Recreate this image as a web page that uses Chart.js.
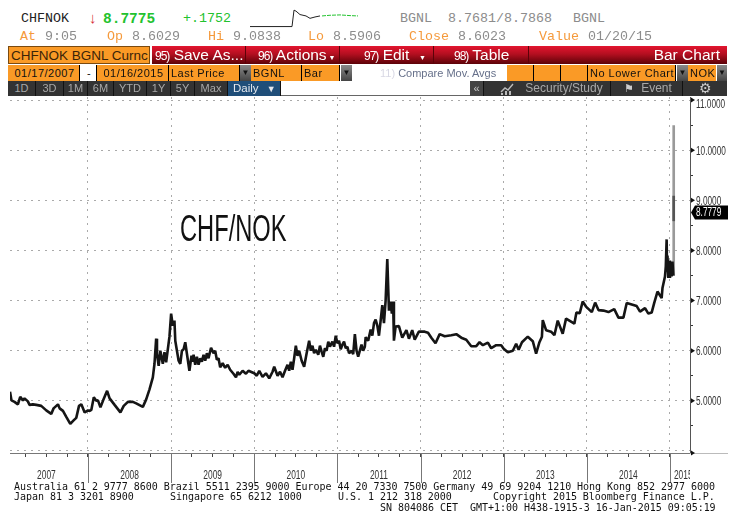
<!DOCTYPE html>
<html>
<head>
<meta charset="utf-8">
<script src="https://cdn.jsdelivr.net/npm/chart.js@4"></script>
<style>
html, body { margin: 0; padding: 0; background: #fff; }
body { width: 736px; height: 527px; position: relative; overflow: hidden; font-family: "Liberation Sans", sans-serif; }
.t { position: absolute; white-space: pre; }
.top { font: 13.33px/16px "Liberation Mono", monospace; color: #8c8c8c; }
.or { color: #f59a3c; }
.box { position: absolute; box-sizing: border-box; white-space: pre; overflow: hidden; }
.red { top: 46px; height: 18px; background: linear-gradient(#e3152f, #b30f20 45%, #5c0208); color: #fff; font-size: 15.5px; line-height: 18px; border-right: 1px solid #5c0208; }
.red i { font-size: 12px; font-style: normal; letter-spacing: -1px; }
.cell { top: 65px; height: 16px; background: #fa9a26; color: #111; font-size: 11px; line-height: 16px; padding-left: 2px; border-right: 1px solid #000; letter-spacing: .5px; }
.drop { top: 65px; height: 16px; background: linear-gradient(#8a8a8a, #444); color: #111; font-size: 8px; line-height: 16px; text-align: center; }
.btn { top: 81px; height: 15px; background: #333; color: #a8a8a8; font-size: 11px; line-height: 15px; text-align: center; border-right: 1px solid #111; }
.foot { font: 10px/10px "DejaVu Sans Mono", monospace; color: #111; letter-spacing: -.03px; }
</style>
</head>
<body>

<span class="t top" style="left:21px;top:11px;color:#222">CHFNOK</span>
<span class="t" style="left:89px;top:9px;color:#d8323a;font-size:15px">↓</span>
<span class="t top" style="left:103px;top:11px;color:#22c22e;font-weight:bold;font-size:14.5px">8.7775</span>
<span class="t top" style="left:183px;top:11px;color:#22c22e">+.1752</span>
<canvas id="spark" width="112" height="24" class="t" style="left:250px;top:6px"></canvas>
<span class="t top" style="left:400px;top:11px">BGNL</span>
<span class="t top" style="left:448px;top:11px">8.7681/8.7868</span>
<span class="t top" style="left:573px;top:11px">BGNL</span>

<span class="t top or" style="left:20px;top:29px">At</span>
<span class="t top" style="left:45px;top:29px">9:05</span>
<span class="t top or" style="left:107px;top:29px">Op</span>
<span class="t top" style="left:132px;top:29px">8.6029</span>
<span class="t top or" style="left:208px;top:29px">Hi</span>
<span class="t top" style="left:233px;top:29px">9.0838</span>
<span class="t top or" style="left:308px;top:29px">Lo</span>
<span class="t top" style="left:333px;top:29px">8.5906</span>
<span class="t top or" style="left:409px;top:29px">Close</span>
<span class="t top" style="left:458px;top:29px">8.6023</span>
<span class="t top or" style="left:539px;top:29px">Value</span>
<span class="t top" style="left:588px;top:29px">01/20/15</span>

<div class="box" style="left:8px;top:46px;width:142px;height:18px;background:#fa9a26;border:1px solid #7a4a10;color:#3a2408;font-size:13.5px;line-height:17px;padding-left:2px">CHFNOK BGNL Curnc</div>
<div class="box red" style="left:152px;width:94px;padding-left:3px"><i>95)</i> Save As...</div>
<div class="box red" style="left:246px;width:94px;padding-left:12px"><i>96)</i> Actions<span style="font-size:7px"> ▼</span></div>
<div class="box red" style="left:340px;width:94px;padding-left:24px"><i>97)</i> Edit<span style="font-size:7px">     ▼</span></div>
<div class="box red" style="left:434px;width:95px;padding-left:20px"><i>98)</i> Table</div>
<div class="box red" style="left:529px;width:198px;text-align:right;padding-right:7px;border-right:0">Bar Chart</div>

<div class="box cell" style="left:8px;width:72px;text-align:center">01/17/2007</div>
<div class="box cell" style="left:80px;width:17px;background:#fff;text-align:center">-</div>
<div class="box cell" style="left:97px;width:72px;text-align:center">01/16/2015</div>
<div class="box cell" style="left:169px;width:71px">Last Price</div>
<div class="box drop" style="left:240px;width:11px">▼</div>
<div class="box cell" style="left:251px;width:51px">BGNL</div>
<div class="box cell" style="left:302px;width:38px">Bar</div>
<div class="box drop" style="left:341px;width:11px">▼</div>
<div class="box cell" style="left:352px;width:155px;background:#fff;color:#66708a;border:0;padding-left:28px;letter-spacing:0"><span style="color:#d8d8e4">11)</span> Compare Mov. Avgs</div>
<div class="box cell" style="left:507px;width:27px"></div>
<div class="box cell" style="left:534px;width:27px"></div>
<div class="box cell" style="left:561px;width:27px"></div>
<div class="box cell" style="left:588px;width:88px">No Lower Chart</div>
<div class="box drop" style="left:677px;width:11px">▼</div>
<div class="box cell" style="left:688px;width:28px;border:0">NOK</div>
<div class="box drop" style="left:717px;width:10px">▼</div>

<div class="box btn" style="left:8px;width:28px">1D</div>
<div class="box btn" style="left:36px;width:28px">3D</div>
<div class="box btn" style="left:64px;width:24px">1M</div>
<div class="box btn" style="left:88px;width:26px">6M</div>
<div class="box btn" style="left:114px;width:33px">YTD</div>
<div class="box btn" style="left:147px;width:24px">1Y</div>
<div class="box btn" style="left:171px;width:24px">5Y</div>
<div class="box btn" style="left:195px;width:33px">Max</div>
<div class="box btn" style="left:228px;width:53px;background:#1f4e79;color:#e4e8ee;text-align:left;padding-left:5px;font-size:11.5px">Daily <span style="font-size:9px">  ▼</span></div>
<div class="box" style="left:281px;top:95px;width:189px;height:1px;background:#666"></div>
<div class="box btn" style="left:470px;width:14px;background:#444;color:#ccc">«</div>
<div class="box btn" style="left:484px;width:127px;padding-left:34px;font-size:12px">Security/Study</div>
<svg class="t" style="left:500px;top:83px" width="14" height="12"><polyline points="1,9 5,5 8,7 13,1" fill="none" stroke="#bbb" stroke-width="1.4"/><rect x="1" y="10" width="2" height="2" fill="#bbb"/><rect x="5" y="8" width="2" height="4" fill="#bbb"/><rect x="9" y="8" width="2" height="4" fill="#bbb"/></svg>
<div class="box btn" style="left:611px;width:72px;padding-left:20px;font-size:12px">Event</div>
<span class="t" style="left:624px;top:81px;color:#ccc;font:11px/15px 'DejaVu Sans',sans-serif">⚑</span>
<div class="box btn" style="left:683px;width:44px;border:0;font-size:14px;color:#ccc">⚙</div>

<canvas id="chart" width="736" height="390" class="t" style="left:0;top:97px"></canvas>
<span class="t" style="left:180px;top:209px;font:37px/40px 'Liberation Sans',sans-serif;color:#111;transform:scaleX(.64);transform-origin:left">CHF/NOK</span>

<span class="t foot" style="left:14px;top:482px">Australia 61 2 9777 8600 Brazil 5511 2395 9000 Europe 44 20 7330 7500 Germany 49 69 9204 1210 Hong Kong 852 2977 6000</span>
<span class="t foot" style="left:14px;top:492px">Japan 81 3 3201 8900</span>
<span class="t foot" style="left:170px;top:492px">Singapore 65 6212 1000</span>
<span class="t foot" style="left:338px;top:492px">U.S. 1 212 318 2000</span>
<span class="t foot" style="left:493px;top:492px">Copyright 2015 Bloomberg Finance L.P.</span>
<span class="t foot" style="left:380px;top:503px">SN 804086 CET</span>
<span class="t foot" style="left:470px;top:503px">GMT+1:00 H438-1915-3 16-Jan-2015 09:05:19</span>

<script>
// CHF/NOK, decimal year and last price
var dates2007 = [2007.062, 2007.08, 2007.116, 2007.157, 2007.185, 2007.217, 2007.237, 2007.277, 2007.297, 2007.337, 2007.378, 2007.438, 2007.498, 2007.558, 2007.586, 2007.639, 2007.659, 2007.699, 2007.739, 2007.787, 2007.827, 2007.859, 2007.892, 2007.92, 2007.96];
var rates2007 = [5.18, 5.01, 4.98, 4.93, 5.08, 5.01, 5.05, 4.99, 4.92, 4.93, 4.92, 4.90, 4.81, 4.74, 4.85, 4.93, 4.85, 4.80, 4.68, 4.54, 4.61, 4.66, 4.90, 4.93, 4.77];
var dates2008 = [2008.0, 2008.02, 2008.04, 2008.07, 2008.10, 2008.12, 2008.15, 2008.18, 2008.23, 2008.26, 2008.32, 2008.39, 2008.43, 2008.48, 2008.54, 2008.58, 2008.66, 2008.70, 2008.74, 2008.78, 2008.80, 2008.82, 2008.83, 2008.85, 2008.87, 2008.90, 2008.92, 2008.94, 2008.98];
var rates2008 = [4.81, 4.80, 4.82, 5.07, 5.00, 5.01, 4.87, 5.00, 5.20, 5.05, 4.92, 4.77, 4.90, 4.98, 4.98, 4.95, 4.88, 5.03, 5.23, 5.47, 5.74, 6.24, 5.94, 5.70, 6.00, 5.74, 5.97, 5.77, 6.28];
var dates2009 = [2009.0, 2009.02, 2009.04, 2009.05, 2009.09, 2009.11, 2009.13, 2009.15, 2009.17, 2009.19, 2009.22, 2009.245, 2009.26, 2009.27, 2009.29, 2009.31, 2009.33, 2009.35, 2009.37, 2009.39, 2009.41, 2009.43, 2009.45, 2009.48, 2009.51, 2009.53, 2009.55, 2009.57, 2009.59, 2009.62, 2009.65, 2009.68, 2009.71, 2009.75, 2009.78, 2009.80, 2009.82, 2009.86, 2009.90, 2009.93];
var rates2009 = [6.74, 6.50, 6.60, 6.20, 5.80, 5.74, 6.00, 6.03, 6.17, 5.94, 5.60, 5.90, 5.78, 5.92, 5.72, 5.88, 5.72, 5.85, 5.78, 5.92, 5.80, 5.95, 5.85, 6.06, 5.95, 6.00, 5.82, 5.85, 5.67, 5.75, 5.66, 5.72, 5.62, 5.54, 5.47, 5.58, 5.52, 5.60, 5.54, 5.60];
var dates2010 = [2010.0, 2010.03, 2010.06, 2010.10, 2010.14, 2010.18, 2010.22, 2010.24, 2010.28, 2010.31, 2010.34, 2010.37, 2010.40, 2010.42, 2010.44, 2010.46, 2010.48, 2010.50, 2010.52, 2010.54, 2010.57, 2010.60, 2010.63, 2010.66, 2010.68, 2010.70, 2010.72, 2010.74, 2010.77, 2010.79, 2010.81, 2010.83, 2010.85, 2010.87, 2010.89, 2010.91, 2010.94, 2010.96, 2010.98];
var rates2010 = [5.55, 5.50, 5.60, 5.48, 5.55, 5.45, 5.58, 5.68, 5.50, 5.58, 5.47, 5.60, 5.72, 5.60, 5.78, 5.62, 5.85, 6.10, 5.90, 6.00, 5.80, 5.68, 5.95, 6.20, 6.00, 6.10, 5.95, 6.02, 5.92, 6.10, 5.98, 5.88, 6.05, 6.00, 6.18, 6.08, 6.18, 6.08, 6.30];
var dates2011 = [2011.0, 2011.02, 2011.04, 2011.06, 2011.08, 2011.10, 2011.12, 2011.14, 2011.17, 2011.19, 2011.21, 2011.23, 2011.25, 2011.27, 2011.29, 2011.31, 2011.33, 2011.34, 2011.37, 2011.40, 2011.42, 2011.44, 2011.46, 2011.48, 2011.50, 2011.52, 2011.54, 2011.56, 2011.58, 2011.60, 2011.62, 2011.64, 2011.655, 2011.67, 2011.68, 2011.70, 2011.74, 2011.78, 2011.83, 2011.86, 2011.90, 2011.93, 2011.98];
var rates2011 = [6.15, 6.20, 6.03, 6.12, 6.18, 6.05, 6.08, 5.95, 6.00, 5.93, 6.33, 6.00, 5.88, 6.00, 6.12, 6.00, 6.08, 6.27, 6.20, 6.42, 6.30, 6.55, 6.62, 6.50, 6.30, 6.60, 6.91, 6.55, 7.00, 7.83, 6.80, 6.98, 6.74, 6.98, 6.20, 6.48, 6.49, 6.26, 6.41, 6.24, 6.41, 6.22, 6.38];
var dates2012 = [2012.05, 2012.09, 2012.13, 2012.18, 2012.23, 2012.29, 2012.37, 2012.43, 2012.49, 2012.55, 2012.61, 2012.67, 2012.71, 2012.75, 2012.81, 2012.85, 2012.91, 2012.97];
var rates2012 = [6.38, 6.36, 6.26, 6.15, 6.33, 6.29, 6.31, 6.33, 6.26, 6.22, 6.09, 6.09, 6.17, 6.11, 6.16, 6.05, 6.11, 6.11];
var dates2013 = [2013.0, 2013.05, 2013.11, 2013.15, 2013.18, 2013.22, 2013.29, 2013.35, 2013.39, 2013.43, 2013.46, 2013.47, 2013.51, 2013.57, 2013.61, 2013.65, 2013.71, 2013.75, 2013.79, 2013.85, 2013.875, 2013.915, 2013.95, 2013.99];
var rates2013 = [6.04, 5.97, 6.00, 6.14, 6.02, 6.17, 6.28, 6.19, 5.94, 6.17, 6.28, 6.61, 6.41, 6.38, 6.31, 6.60, 6.34, 6.64, 6.60, 6.54, 6.76, 6.75, 6.98, 6.88];
var dates2014 = [2014.06, 2014.10, 2014.14, 2014.20, 2014.26, 2014.33, 2014.38, 2014.44, 2014.48, 2014.52, 2014.60, 2014.64, 2014.70, 2014.74, 2014.78, 2014.81, 2014.85, 2014.90, 2014.91, 2014.94, 2014.95, 2014.96, 2014.965, 2014.97, 2014.98, 2014.99];
var rates2014 = [6.77, 6.96, 6.81, 6.80, 6.77, 6.83, 6.66, 6.66, 6.95, 6.93, 6.89, 6.78, 6.85, 6.74, 6.76, 6.95, 7.18, 7.05, 7.25, 7.48, 7.68, 8.22, 7.60, 7.90, 7.45, 7.80];
var dates2015 = [2015.0, 2015.01, 2015.02, 2015.03, 2015.04];
var rates2015 = [7.45, 7.75, 7.48, 7.78, 7.50];

// the two jump bars, low/high
var jumpDates = [2015.045, 2015.045];
var jumpLows = [7.50, 8.5906];
var jumpHighs = [10.49, 9.0838];

var lastPrice = 8.7779;
var years = [2007, 2008, 2009, 2010, 2011, 2012, 2013, 2014, 2015];
var priceTicks = [4, 4.5, 5, 5.5, 6, 6.5, 7, 7.5, 8, 8.5, 9, 9.5, 10, 10.5, 11];

// mini intraday line at the top
var sparkBlackX = [0, 42, 44, 46, 50, 56, 60, 65, 70];
var sparkBlackY = [8.60, 8.60, 9.08, 9.05, 8.95, 8.91, 8.84, 8.88, 8.91];
var sparkGreenX = [72, 80, 90, 100, 108];
var sparkGreenY = [8.91, 8.93, 8.94, 8.92, 8.91];

var dates = [].concat(dates2007, dates2008, dates2009, dates2010, dates2011, dates2012, dates2013, dates2014, dates2015);
var rates = [].concat(rates2007, rates2008, rates2009, rates2010, rates2011, rates2012, rates2013, rates2014, rates2015);

function toPoints(xs, ys) {
    return xs.map(function (x, i) { return { x: x, y: ys[i] }; });
}

var xTicks = [];
years.forEach(function (y) {
    [0, 0.25, 0.5, 0.75].forEach(function (q) {
        if (y + q > 2007.07 && y + q <= 2015) xTicks.push(y + q);
    });
});
xTicks.push(2015.16);

// the terminal font is very condensed and none is installed, so squeeze it
function narrowText(ctx, text, x, y, size, k, align) {
    ctx.save();
    ctx.translate(x, y);
    ctx.scale(k, 1);
    ctx.font = size + 'px "Liberation Sans", sans-serif';
    ctx.textAlign = align;
    ctx.textBaseline = 'middle';
    ctx.fillText(text, 0, 0);
    ctx.restore();
}

// long year separators, arrow marks, squeezed labels and the last value tag
var bloombergMarks = {
    id: 'bloombergMarks',
    afterDraw: function (chart) {
        var ctx = chart.ctx, xs = chart.scales.x, ys = chart.scales.y;
        var bottom = chart.chartArea.bottom, right = chart.chartArea.right;
        ctx.save();
        ctx.strokeStyle = '#777';
        ctx.lineWidth = 1;
        years.slice(1).forEach(function (y) {
            var px = Math.round(xs.getPixelForValue(y)) + 0.5;
            ctx.beginPath();
            ctx.moveTo(px, bottom);
            ctx.lineTo(px, bottom + 30);
            ctx.stroke();
        });
        ctx.strokeStyle = '#bbb';
        ctx.beginPath();
        ctx.moveTo(right, bottom + 0.5);
        ctx.lineTo(728, bottom + 0.5);
        ctx.stroke();

        ctx.fillStyle = '#111';
        priceTicks.concat([3.96]).forEach(function (v) {
            if (v % 1 !== 0 && v !== 3.96) return;
            if (v === 4) return;
            var py = ys.getPixelForValue(v);
            ctx.beginPath();
            ctx.moveTo(right + 1, py - 2.5);
            ctx.lineTo(right + 5, py);
            ctx.lineTo(right + 1, py + 2.5);
            ctx.fill();
        });

        // price labels
        ctx.fillStyle = '#333';
        ys.ticks.forEach(function (t) {
            if (!t.label) return;
            var py = ys.getPixelForValue(t.value) + 1;
            if (t.value === 11) py += 4;
            narrowText(ctx, t.label, right + 6, py, 12.5, 0.66, 'left');
        });

        // year labels, the last one is cut by the axis
        ctx.save();
        ctx.beginPath();
        ctx.rect(0, bottom, right, 34);
        ctx.clip();
        xs.ticks.forEach(function (t) {
            if (!t.label) return;
            narrowText(ctx, t.label, xs.getPixelForValue(t.value), bottom + 23, 12, 0.7, 'center');
        });
        ctx.restore();

        var ty = ys.getPixelForValue(lastPrice) + 1;
        ctx.fillStyle = '#000';
        ctx.beginPath();
        ctx.moveTo(691, ty);
        ctx.lineTo(695, ty - 7);
        ctx.lineTo(728, ty - 7);
        ctx.lineTo(728, ty + 7);
        ctx.lineTo(695, ty + 7);
        ctx.fill();
        ctx.fillStyle = '#fff';
        narrowText(ctx, lastPrice.toFixed(4), 696, ty + 0.5, 12.5, 0.66, 'left');
        ctx.restore();
    }
};

new Chart(document.getElementById("chart"), {
    type: 'line',
    plugins: [bloombergMarks],
    data: {
        datasets: [
            {
                type: 'line',
                data: toPoints(dates, rates),
                borderColor: '#151515',
                borderWidth: 2.6,
                borderJoinStyle: 'bevel',
                pointRadius: 0,
                tension: 0,
                order: 1
            },
            {
                type: 'bar',
                data: jumpDates.map(function (d, i) { return { x: d, y: [jumpLows[i], jumpHighs[i]] }; }),
                backgroundColor: ['#9a9a9a', '#555555'],
                barThickness: 2,
                grouped: false,
                order: 2
            }
        ]
    },
    options: {
        responsive: false,
        animation: false,
        layout: { padding: { left: 10, right: 0, top: 0, bottom: 0 } },
        plugins: { legend: { display: false }, tooltip: { enabled: false } },
        scales: {
            x: {
                type: 'linear',
                offset: false,
                min: 2007.062,
                max: 2015.241,
                afterFit: function (scale) { scale.height = 34; },
                afterBuildTicks: function (scale) {
                    scale.ticks = xTicks.map(function (v) { return { value: v }; });
                },
                grid: {
                    offset: false,
                    color: function (c) {
                        return c.tick && Number.isInteger(c.tick.value) ? '#aaaaaa' : 'transparent';
                    },
                    tickColor: function (c) {
                        return c.tick && c.tick.value === 2015.16 ? 'transparent' : '#444';
                    },
                    tickLength: 4,
                    lineWidth: 1
                },
                border: { display: true, color: '#777', dash: [2, 5] },
                ticks: {
                    display: false,
                    autoSkip: false,
                    callback: function (v) {
                        if (v === 2015.16) return '2015';
                        return Math.abs(v % 1 - 0.5) < 0.001 ? String(Math.floor(v)) : '';
                    }
                }
            },
            y: {
                position: 'right',
                min: 3.96,
                max: 11.06,
                afterFit: function (scale) { scale.width = 46; },
                afterBuildTicks: function (scale) {
                    scale.ticks = priceTicks.map(function (v) { return { value: v }; });
                },
                grid: {
                    color: function (c) {
                        return c.tick && Number.isInteger(c.tick.value) ? '#aaaaaa' : 'transparent';
                    },
                    tickColor: function (c) {
                        return c.tick && c.tick.value % 1 === 0.5 ? '#333' : 'transparent';
                    },
                    tickLength: 3,
                    lineWidth: 1
                },
                border: { display: true, color: '#555', dash: [2, 5] },
                ticks: {
                    display: false,
                    autoSkip: false,
                    callback: function (v) {
                        return v >= 5 && Number.isInteger(v) ? v.toFixed(4) : '';
                    }
                }
            }
        }
    }
});

// sparkline
new Chart(document.getElementById("spark"), {
    type: 'line',
    data: {
        datasets: [
            { data: toPoints(sparkBlackX, sparkBlackY), borderColor: '#222', borderWidth: 1, pointRadius: 0 },
            { data: toPoints(sparkGreenX, sparkGreenY), borderColor: '#22c22e', borderWidth: 1, borderDash: [4, 1], pointRadius: 0 }
        ]
    },
    options: {
        responsive: false,
        animation: false,
        plugins: { legend: { display: false }, tooltip: { enabled: false } },
        scales: {
            x: { type: 'linear', display: false, min: 0, max: 112 },
            y: { display: false, min: 8.5, max: 9.2 }
        }
    }
});
</script>
</body>
</html>
